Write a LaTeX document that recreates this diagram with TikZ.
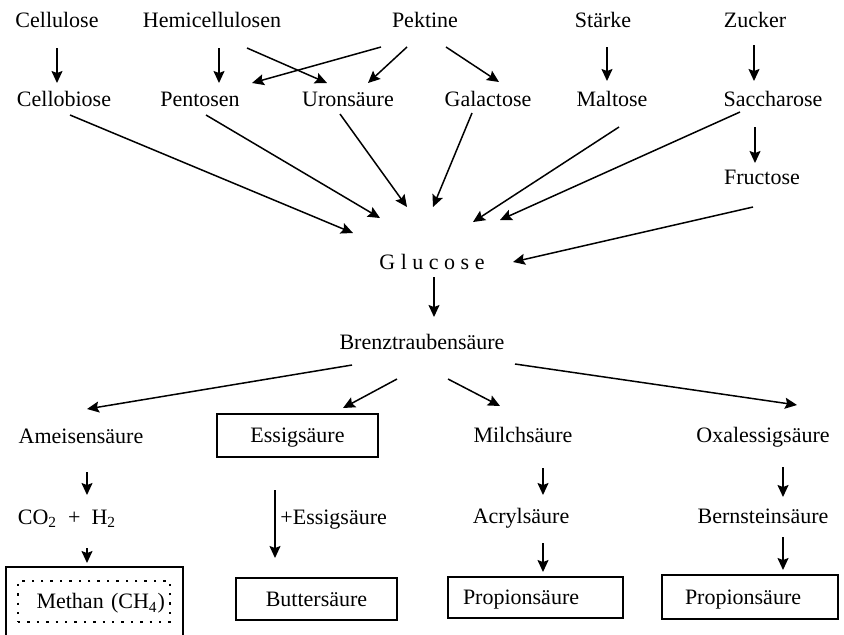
\documentclass[tikz,border=0pt]{standalone}
\usepackage{fontspec}
\setmainfont{Liberation Serif}
\usetikzlibrary{arrows.meta,calc}

\begin{document}
\begin{tikzpicture}[x=0.5pt, y=-0.5pt, >={Stealth[length=6pt,width=5.5pt,inset=1pt]},
  font=\fontsize{11}{13}\selectfont,
  lbl/.style={inner sep=0pt, text height=7.3pt, text depth=0pt},
  kasten/.style={draw, line width=0.7pt, text height=7.3pt, text depth=0pt},
  punktkasten/.style={draw, line width=0.9pt, dash pattern=on 1.2pt off 3.5pt, text height=7.3pt, text depth=0pt},
  pfeil/.style={->, line width=0.75pt}]
\useasboundingbox (0,0) rectangle (844,634);
\clip (0,0) rectangle (844,634);
% Ausgangsstoffe
\node[lbl] (cell) at (57,20) {Cellulose};
\node[lbl] (hemi) at (212,20) {Hemicellulosen};
\node[lbl] (pek) at (425,20) {Pektine};
\node[lbl] (staerke) at (603,20) {Stärke};
\node[lbl] (zucker) at (755,20) {Zucker};
% Zwischenprodukte
\node[lbl] (cbio) at (64,99) {Cellobiose};
\node[lbl] (pent) at (200,99) {Pentosen};
\node[lbl] (uron) at (348,99) {Uronsäure};
\node[lbl] (gal) at (488,99) {Galactose};
\node[lbl] (malt) at (612,99) {Maltose};
\node[lbl] (sacch) at (773,99) {Saccharose};
\node[lbl] (fruc) at (762,177) {Fructose};
\node[lbl] (glu) at (432,262) {G l u c o s e};
\node[lbl] (brenz) at (422,342) {Brenztraubensäure};
% Säuren
\node[lbl] (ameis) at (81,436) {Ameisensäure};
\node[kasten, minimum width=80.5pt, minimum height=21.5pt] (essig) at (297.5,435.5) {Essigsäure};
\node[lbl] (milch) at (523,435) {Milchsäure};
\node[lbl] (oxal) at (763,435) {Oxalessigsäure};
\node[lbl] (co2) at (67,517) {CO\textsubscript{2}\enspace+\enspace H\textsubscript{2}};
\node[lbl, anchor=west] (plusessig) at (280,517) {+Essigsäure};
\node[lbl] (acryl) at (521,516) {Acrylsäure};
\node[lbl] (bern) at (763,516) {Bernsteinsäure};
% Endprodukte
\node[kasten, minimum width=88.5pt, minimum height=41.5pt] (methanbox) at (94.5,608.5) {};
\node[punktkasten, text width=71pt, inner xsep=2.5pt, align=right, minimum height=20.5pt] (methan) at (94,601.5) {Methan (CH\textsubscript{4})};
\node[kasten, minimum width=80.5pt, minimum height=21pt] (butter) at (316.5,599) {Buttersäure};
\node[kasten, text width=72.5pt, inner xsep=7.5pt, align=left, minimum height=20.5pt] (prop1) at (535.5,597.5) {Propionsäure};
\node[kasten, text width=65pt, inner xsep=11.5pt, align=left, minimum height=22pt] (prop2) at (750,597) {Propionsäure};
% Pfeile
\foreach \a/\ax/\ay/\b/\bx/\by in {cell/0/28/cbio/-7/-16, hemi/7/28/pent/19/-16,
    hemi/35/28/uron/-21/-16, pek/-44/27/pent/52/-16, pek/-18/27/uron/20/-16,
    pek/21/27/gal/11/-17, staerke/4/27/malt/-5/-18, zucker/-1/25/sacch/-19/-18,
    sacch/-18/28/fruc/-7/-14, cbio/6/16/glu/-79/-29, pent/6/16/glu/-52/-44,
    uron/-8/15/glu/-25/-55, gal/-16/14/glu/1/-55, malt/7/28/glu/41/-40,
    sacch/-33/13/glu/68/-42, fruc/-9/30/glu/81/0, glu/2/15/brenz/12/-25,
    brenz/-70/23/ameis/6/-27, brenz/-25/37/essig/45.5/-27.5, brenz/26/37/milch/-23/-29,
    brenz/93/22/oxal/34/-30, ameis/6/36/co2/20/-22, milch/20/33/acryl/22/-21,
    oxal/20/32/bern/20/-19, co2/20/31/methanbox/-7.5/-45.5, essig/-22.5/54.5/butter/-41.5/-41,
    acryl/22/27/prop1/7.5/-25.5, bern/20/21/prop2/33/-27}
  \draw[pfeil] ($(\a)+(\ax,\ay)$) -- ($(\b)+(\bx,\by)$);
\end{tikzpicture}
\end{document}
